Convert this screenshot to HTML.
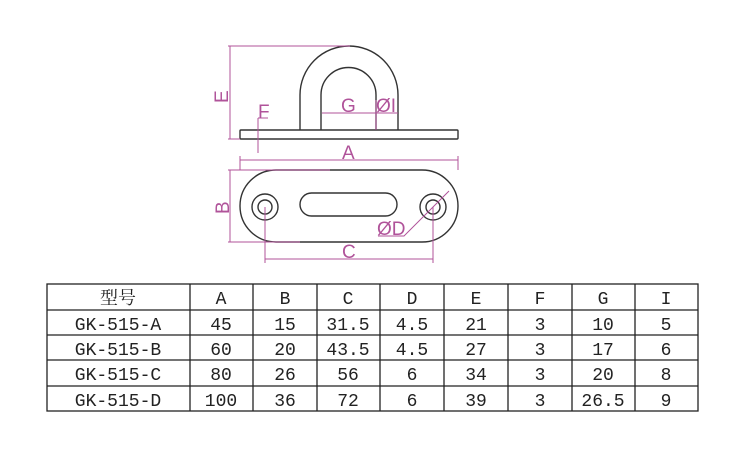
<!DOCTYPE html>
<html><head><meta charset="utf-8"><style>
html,body{margin:0;padding:0;background:#fff;}
svg{display:block}
</style></head><body>
<svg width="750" height="476" viewBox="0 0 750 476" xmlns="http://www.w3.org/2000/svg">
<g fill="none" stroke="#333" stroke-width="1.4">
  <!-- side view -->
  <rect x="240" y="130" width="218" height="9" rx="1"/>
  <path d="M300 130 V95 A49 49 0 0 1 398 95 V130"/>
  <path d="M321 130 V95 A27.5 27.5 0 0 1 376 95 V130"/>
  <!-- top view -->
  <rect x="240" y="170" width="218" height="72" rx="36"/>
  <circle cx="265" cy="207" r="13"/><circle cx="265" cy="207" r="7"/>
  <circle cx="433" cy="207" r="13"/><circle cx="433" cy="207" r="7"/>
  <rect x="300" y="193" width="97" height="23" rx="11.5"/>
</g>
<g fill="none" stroke="#b0539a" stroke-width="1">
  <line x1="228" y1="46" x2="350" y2="46"/>
  <line x1="230" y1="46" x2="230" y2="139"/>
  <line x1="228" y1="139" x2="240" y2="139"/>
  <line x1="258" y1="118" x2="258" y2="153"/>
  <line x1="258" y1="118" x2="268" y2="118"/>
  <line x1="322" y1="113" x2="398" y2="113"/>
  <line x1="376" y1="100" x2="376" y2="130"/>
  <line x1="240" y1="160" x2="458" y2="160"/>
  <line x1="240" y1="156" x2="240" y2="170"/>
  <line x1="458" y1="156" x2="458" y2="170"/>
  <line x1="228" y1="170" x2="330" y2="170"/>
  <line x1="228" y1="242" x2="300" y2="242"/>
  <line x1="230" y1="170" x2="230" y2="242"/>
  <line x1="265" y1="207" x2="265" y2="263"/>
  <line x1="433" y1="207" x2="433" y2="263"/>
  <line x1="265" y1="259" x2="433" y2="259"/>
  <polyline points="449,191 404,236 378,236"/>
</g>
<g fill="#b0539a" font-family="Liberation Sans, sans-serif" font-size="19">
  <text x="213" y="102" transform="rotate(-90 221 95)">E</text>
  <text x="258" y="118">F</text>
  <text x="341" y="112">G</text>
  <text x="376" y="112">ØI</text>
  <text x="342" y="159">A</text>
  <text x="213" y="214" transform="rotate(-90 221 206)">B</text>
  <text x="342" y="258">C</text>
  <text x="377" y="235">ØD</text>
</g>
<g stroke="#222" stroke-width="1.3" fill="none">
  <rect x="47" y="284" width="651" height="127"/>
  <line x1="47" y1="310" x2="698" y2="310"/>
  <line x1="47" y1="335" x2="698" y2="335"/>
  <line x1="47" y1="360" x2="698" y2="360"/>
  <line x1="47" y1="386" x2="698" y2="386"/>
  <line x1="190" y1="284" x2="190" y2="411"/>
  <line x1="253" y1="284" x2="253" y2="411"/>
  <line x1="317" y1="284" x2="317" y2="411"/>
  <line x1="380" y1="284" x2="380" y2="411"/>
  <line x1="444" y1="284" x2="444" y2="411"/>
  <line x1="508" y1="284" x2="508" y2="411"/>
  <line x1="572" y1="284" x2="572" y2="411"/>
  <line x1="635" y1="284" x2="635" y2="411"/>
</g>
<g fill="#222" font-family="Liberation Mono, 'Noto Serif CJK SC', monospace" font-size="18" text-anchor="middle">
  <text x="118" y="304" font-family="'Noto Serif CJK SC', serif">型号</text>
  <text x="221" y="304">A</text><text x="285" y="304">B</text><text x="348" y="304">C</text><text x="412" y="304">D</text><text x="476" y="304">E</text><text x="540" y="304">F</text><text x="603" y="304">G</text><text x="666" y="304">I</text>
  <text x="118" y="330">GK-515-A</text><text x="221" y="330">45</text><text x="285" y="330">15</text><text x="348" y="330">31.5</text><text x="412" y="330">4.5</text><text x="476" y="330">21</text><text x="540" y="330">3</text><text x="603" y="330">10</text><text x="666" y="330">5</text>
  <text x="118" y="355">GK-515-B</text><text x="221" y="355">60</text><text x="285" y="355">20</text><text x="348" y="355">43.5</text><text x="412" y="355">4.5</text><text x="476" y="355">27</text><text x="540" y="355">3</text><text x="603" y="355">17</text><text x="666" y="355">6</text>
  <text x="118" y="380">GK-515-C</text><text x="221" y="380">80</text><text x="285" y="380">26</text><text x="348" y="380">56</text><text x="412" y="380">6</text><text x="476" y="380">34</text><text x="540" y="380">3</text><text x="603" y="380">20</text><text x="666" y="380">8</text>
  <text x="118" y="406">GK-515-D</text><text x="221" y="406">100</text><text x="285" y="406">36</text><text x="348" y="406">72</text><text x="412" y="406">6</text><text x="476" y="406">39</text><text x="540" y="406">3</text><text x="603" y="406">26.5</text><text x="666" y="406">9</text>
</g>
</svg>
</body></html>
